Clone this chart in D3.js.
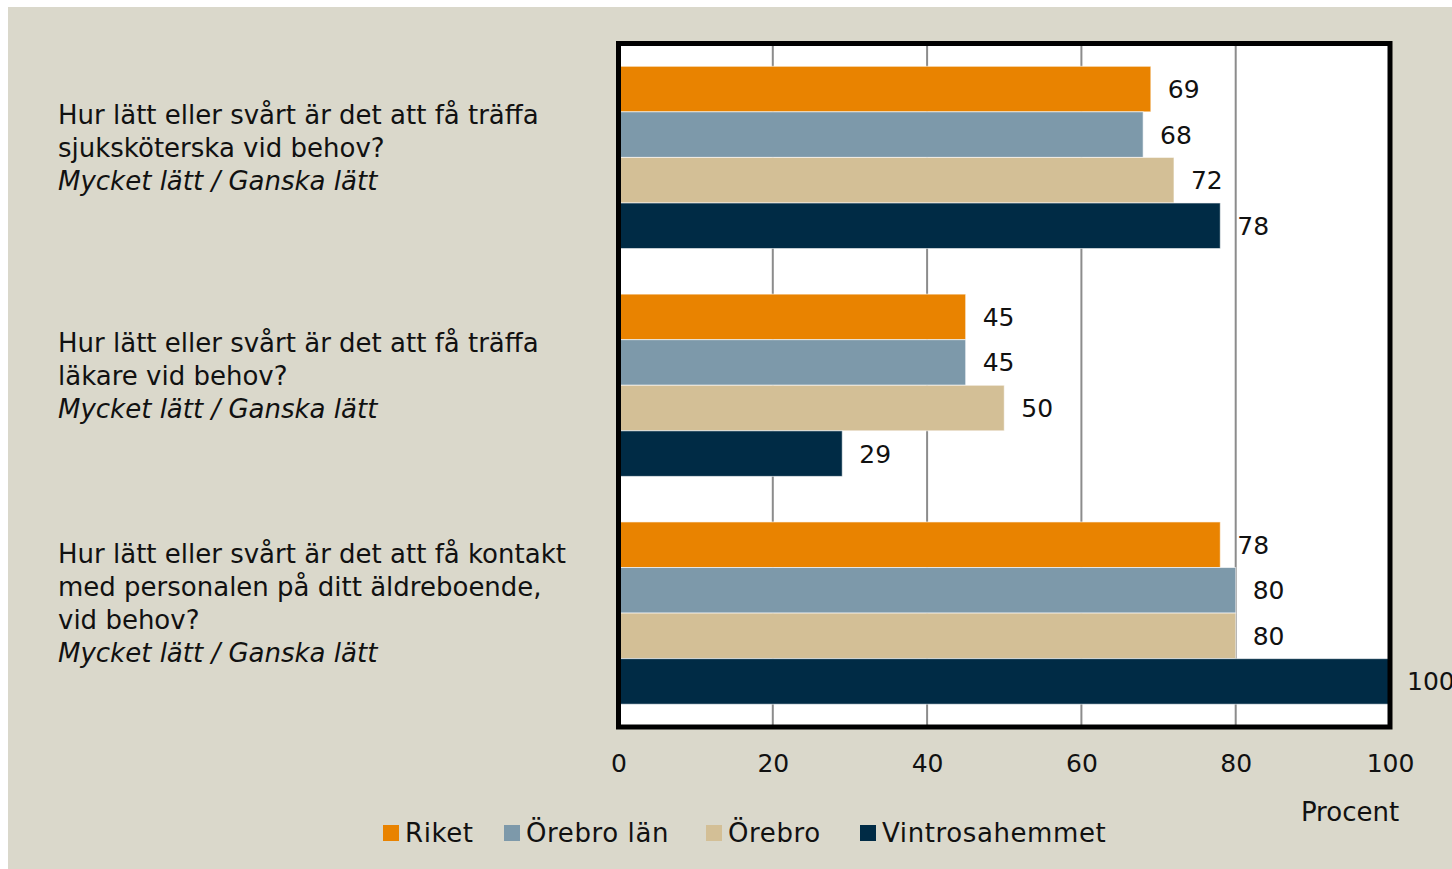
<!DOCTYPE html>
<html>
<head>
<meta charset="utf-8">
<script src="https://cdn.jsdelivr.net/npm/d3@7"></script>
<style>
  body { margin: 0; background: #fff; }
  svg text { font-family: "DejaVu Sans", sans-serif; fill: #111; }
</style>
</head>
<body>
<div id="chart"></div>
<script>
// data
const categories = ["q1", "q2", "q3"];
const questionLines = [
  ["Hur lätt eller svårt är det att få träffa", "sjuksköterska vid behov?"],
  ["Hur lätt eller svårt är det att få träffa", "läkare vid behov?"],
  ["Hur lätt eller svårt är det att få kontakt", "med personalen på ditt äldreboende,", "vid behov?"]
];
const subLabel = "Mycket lätt / Ganska lätt";
const seriesNames = ["Riket", "Örebro län", "Örebro", "Vintrosahemmet"];
const riket = [69, 45, 78];
const orebroLan = [68, 45, 80];
const orebro = [72, 50, 80];
const vintrosa = [78, 29, 100];
const xTicks = [0, 20, 40, 60, 80, 100];
const axisTitle = "Procent";

const colors = ["#E98300", "#7D99AA", "#D3BF96", "#002B45"];
const values = [riket, orebroLan, orebro, vintrosa];

const W = 1452, H = 869;
const plot = { left: 618.5, right: 1390, top: 43.5, bottom: 727 };

const svg = d3.select("#chart").append("svg")
  .attr("width", W).attr("height", H);

// bakgrund
svg.append("rect").attr("x", 8).attr("y", 7).attr("width", W - 8).attr("height", H - 7)
  .attr("fill", "#DAD8CB");

svg.append("rect")
  .attr("x", plot.left).attr("y", plot.top)
  .attr("width", plot.right - plot.left).attr("height", plot.bottom - plot.top)
  .attr("fill", "#fff");

const xScale = d3.scaleLinear().domain([0, 100]).range([plot.left, plot.right]);

const yScale = d3.scaleBand()
  .domain(categories)
  .range([plot.top, plot.bottom])
  .paddingInner(0.2)
  .paddingOuter(0.1);

const ySub = d3.scaleBand()
  .domain(seriesNames)
  .range([0, yScale.bandwidth()]);

// grid
svg.append("g").selectAll("line")
  .data(xTicks.filter(t => t > 0 && t < 100))
  .enter().append("line")
  .attr("x1", d => xScale(d)).attr("x2", d => xScale(d))
  .attr("y1", plot.top).attr("y2", plot.bottom)
  .attr("stroke", "#8c8c8c").attr("stroke-width", 2);

// staplar
const groups = svg.selectAll(".groups")
  .data(categories)
  .enter().append("g")
  .attr("class", "groups")
  .attr("transform", d => `translate(0, ${yScale(d)})`);

groups.each(function(cat, ci) {
  const g = d3.select(this);
  const rows = seriesNames.map((s, si) => ({ s, si, v: values[si][ci] }));

  g.selectAll("rect")
    .data(rows)
    .enter().append("rect")
    .attr("x", xScale(0))
    .attr("y", d => ySub(d.s))
    .attr("width", d => xScale(d.v) - xScale(0))
    .attr("height", ySub.bandwidth())
    .attr("fill", d => colors[d.si])
    .attr("stroke", "rgba(255,255,255,0.6)")
    .attr("stroke-width", 1);

  g.selectAll("text.val")
    .data(rows)
    .enter().append("text")
    .attr("class", "val")
    .attr("x", d => xScale(d.v) + 17)
    .attr("y", d => ySub(d.s) + ySub.bandwidth() / 2)
    .attr("dy", "0.36em")
    .style("font-size", "25px")
    .text(d => d.v);
});

// ram
svg.append("rect")
  .attr("x", plot.left).attr("y", plot.top)
  .attr("width", plot.right - plot.left).attr("height", plot.bottom - plot.top)
  .attr("fill", "none").attr("stroke", "#000").attr("stroke-width", 5);

// x-axel
const xAxisGroup = svg.append("g")
  .attr("class", "xAxis")
  .attr("transform", `translate(0, ${plot.bottom})`);

const xAxisCall = d3.axisBottom(xScale)
  .tickValues(xTicks)
  .tickSize(0)
  .tickPadding(27);

xAxisGroup.call(xAxisCall);
xAxisGroup.select(".domain").remove();
xAxisGroup.selectAll("text")
  .style("font-size", "25px")
  .style("font-family", "DejaVu Sans, sans-serif")
  .attr("fill", "#111");

svg.append("text")
  .attr("x", 1350).attr("y", 812)
  .attr("dy", "0.36em")
  .attr("text-anchor", "middle")
  .style("font-size", "26px")
  .text(axisTitle);

// kategorietiketter
const lineH = 33;
categories.forEach((cat, ci) => {
  const lines = questionLines[ci];
  const n = lines.length + 1;
  const cy = yScale(cat) + yScale.bandwidth() / 2 - 10;
  const y0 = cy - (n - 1) * lineH / 2;
  const t = svg.append("text")
    .attr("x", 58)
    .style("font-size", "26px");
  lines.forEach((l, li) => {
    t.append("tspan").attr("x", 58).attr("y", y0 + li * lineH).attr("dy", "0.36em").text(l);
  });
  t.append("tspan").attr("x", 58).attr("y", y0 + lines.length * lineH).attr("dy", "0.36em")
    .style("font-style", "italic").text(subLabel);
});

// legend
const legendX = [383, 504, 706, 860];
const legend = svg.selectAll(".legend")
  .data(seriesNames)
  .enter().append("g")
  .attr("class", "legend")
  .attr("transform", (d, i) => `translate(${legendX[i]}, 833)`);

legend.append("rect")
  .attr("x", 0).attr("y", -8).attr("width", 16).attr("height", 16)
  .attr("fill", (d, i) => colors[i]);

legend.append("text")
  .attr("x", 22).attr("dy", "0.36em")
  .style("font-size", "26px")
  .style("letter-spacing", "0.6px")
  .text(d => d);
</script>
</body>
</html>
